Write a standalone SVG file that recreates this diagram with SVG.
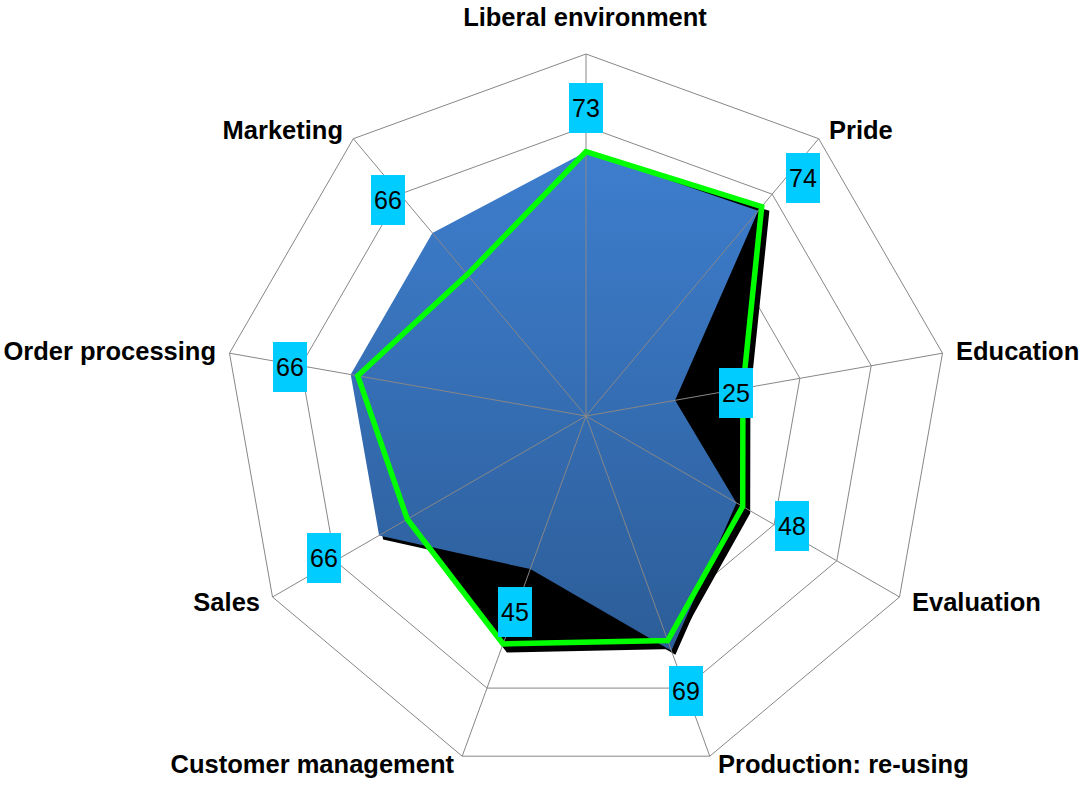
<svg xmlns="http://www.w3.org/2000/svg" width="1087" height="785" viewBox="0 0 1087 785">
<style>
.grid{fill:none;stroke:#878787;stroke-width:1}
.spoke{stroke:#878787;stroke-width:1}
.cat{font-family:"Liberation Sans",Arial,sans-serif;font-weight:bold;font-size:25.5px;fill:#000}
.lblbox{fill:#00CCFF}
.lbl{font-family:"Liberation Sans",Arial,sans-serif;font-size:25px;fill:#000;text-anchor:middle}
</style>
<defs>
<linearGradient id="blueGrad" x1="0" y1="0" x2="0" y2="1">
<stop offset="0" stop-color="#3E7ECE"/>
<stop offset="1" stop-color="#2C5D98"/>
</linearGradient>
</defs>
<rect width="1087" height="785" fill="#FFFFFF"/>
<g id="rings">
<polygon class="grid" points="586,54 818.7,138.7 942.5,353.2 899.5,597 709.8,756.2 462.2,756.2 272.5,597 229.5,353.2 353.3,138.7"/>
<polygon class="grid" points="586,126.4 772.2,194.2 871.2,365.7 836.8,560.8 685,688.1 487,688.1 335.2,560.8 300.8,365.7 399.8,194.2"/>
<polygon class="grid" points="586,198.8 725.6,249.6 799.9,378.3 774.1,524.6 660.3,620.1 511.7,620.1 397.9,524.6 372.1,378.3 446.4,249.6"/>
<polygon class="grid" points="586,271.2 679.1,305.1 728.6,390.9 711.4,488.4 635.5,552.1 536.5,552.1 460.6,488.4 443.4,390.9 492.9,305.1"/>
<polygon class="grid" points="586,343.6 632.5,360.5 657.3,403.4 648.7,452.2 610.8,484 561.2,484 523.3,452.2 514.7,403.4 539.5,360.5"/>
</g>
<g id="series-shadow">
<polygon transform="translate(5,6)" fill="#000" stroke="#000" stroke-width="5" points="586,151.7 761.7,206.6 742.9,388.3 742.7,506.5 667.7,640.5 503.1,643.9 407.3,519.2 357.8,375.8 467.3,274.6"/>
<polygon fill="#000" points="586,151.7 761.7,206.6 742.9,388.3 742.7,506.5 667.7,640.5 503.1,643.9 407.3,519.2 357.8,375.8 467.3,274.6"/>
<polygon transform="translate(4,4)" fill="#000" points="586,151.7 758.2,210.8 675.1,400.3 736.5,502.9 671.4,650.7 530.3,569.1 379.1,535.5 350.7,374.5 432.4,233"/>
</g>
<g id="series-blue">
<polygon fill="url(#blueGrad)" points="586,151.7 758.2,210.8 675.1,400.3 736.5,502.9 671.4,650.7 530.3,569.1 379.1,535.5 350.7,374.5 432.4,233"/>
</g>
<g id="spokes">
<line class="spoke" x1="586" y1="416" x2="586" y2="54"/>
<line class="spoke" x1="586" y1="416" x2="818.7" y2="138.7"/>
<line class="spoke" x1="586" y1="416" x2="942.5" y2="353.2"/>
<line class="spoke" x1="586" y1="416" x2="899.5" y2="597"/>
<line class="spoke" x1="586" y1="416" x2="709.8" y2="756.2"/>
<line class="spoke" x1="586" y1="416" x2="462.2" y2="756.2"/>
<line class="spoke" x1="586" y1="416" x2="272.5" y2="597"/>
<line class="spoke" x1="586" y1="416" x2="229.5" y2="353.2"/>
<line class="spoke" x1="586" y1="416" x2="353.3" y2="138.7"/>
</g>
<g id="series-green">
<polygon fill="none" stroke="#00FF00" stroke-width="5.5" stroke-linejoin="miter" points="586,151.7 761.7,206.6 742.9,388.3 742.7,506.5 667.7,640.5 503.1,643.9 407.3,519.2 357.8,375.8 467.3,274.6"/>
</g>
<g id="data-labels">
<g id="lbl-liberal"><rect class="lblbox" x="569" y="83" width="34" height="50"/><text class="lbl" x="586" y="117">73</text></g>
<g id="lbl-pride"><rect class="lblbox" x="786" y="153" width="34" height="50"/><text class="lbl" x="803" y="187">74</text></g>
<g id="lbl-education"><rect class="lblbox" x="719" y="368" width="34" height="50"/><text class="lbl" x="736" y="402">25</text></g>
<g id="lbl-evaluation"><rect class="lblbox" x="775" y="501" width="34" height="50"/><text class="lbl" x="792" y="535">48</text></g>
<g id="lbl-production"><rect class="lblbox" x="669" y="666" width="34" height="50"/><text class="lbl" x="686" y="700">69</text></g>
<g id="lbl-customer"><rect class="lblbox" x="498" y="587" width="34" height="50"/><text class="lbl" x="515" y="621">45</text></g>
<g id="lbl-sales"><rect class="lblbox" x="307" y="533" width="34" height="50"/><text class="lbl" x="324" y="567">66</text></g>
<g id="lbl-order"><rect class="lblbox" x="273" y="342" width="34" height="50"/><text class="lbl" x="290" y="376">66</text></g>
<g id="lbl-marketing"><rect class="lblbox" x="371" y="175" width="34" height="50"/><text class="lbl" x="388" y="209">66</text></g>
</g>
<g id="categories">
<text id="cat-liberal" class="cat" x="585" y="26" text-anchor="middle">Liberal environment</text>
<text id="cat-pride" class="cat" x="829" y="139">Pride</text>
<text id="cat-education" class="cat" x="956" y="360">Education</text>
<text id="cat-evaluation" class="cat" x="912" y="611">Evaluation</text>
<text id="cat-production" class="cat" x="718" y="773">Production: re-using</text>
<text id="cat-customer" class="cat" x="454" y="773" text-anchor="end">Customer management</text>
<text id="cat-sales" class="cat" x="260" y="611" text-anchor="end">Sales</text>
<text id="cat-order" class="cat" x="216" y="360" text-anchor="end">Order processing</text>
<text id="cat-marketing" class="cat" x="343" y="139" text-anchor="end">Marketing</text>
</g>
</svg>
